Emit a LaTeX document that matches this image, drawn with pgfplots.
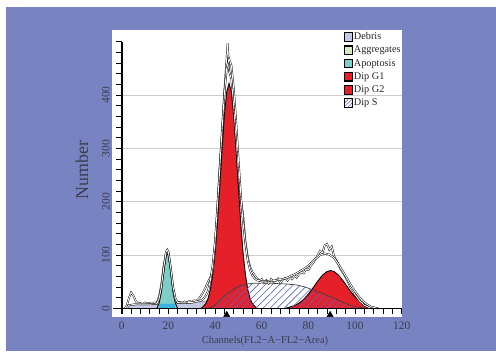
\documentclass[border=0pt]{standalone}
\usepackage{pgfplots}
\pgfplotsset{compat=1.18}
\usepackage{fontspec}
\setmainfont{Liberation Serif}
\usetikzlibrary{patterns.meta}
\definecolor{bgpurple}{RGB}{120,131,193}
\definecolor{g1red}{RGB}{230,32,40}
\definecolor{apoteal}{RGB}{126,206,200}
\definecolor{apocyan}{RGB}{58,178,228}
\definecolor{debris}{RGB}{197,201,229}
\definecolor{aggr}{RGB}{214,234,200}
\definecolor{hatchblue}{RGB}{88,100,192}
\definecolor{gridgray}{RGB}{205,205,205}
\definecolor{txt}{RGB}{60,60,78}
\begin{document}
\begin{tikzpicture}
\path[use as bounding box] (0,0) rectangle (496bp,352bp);
\fill[white] (0,0) rectangle (496bp,352bp);
\fill[bgpurple] (6bp,1bp) rectangle (496bp,344.5bp);
\begin{axis}[
  at={(111.7bp,35bp)}, anchor=south west,
  scale only axis, width=290bp, height=287bp,
  xmin=-4.3, xmax=120, ymin=-16, ymax=522,
  axis background/.style={fill=white},
  axis line style={draw=none},
  major tick length=0pt, minor tick length=0pt,
  xtick={0,20,...,120}, ytick={0,100,...,400},
  /pgf/number format/assume math mode=true,
  tick label style={font=\fontsize{11.5}{12}\selectfont, text=txt},
  xticklabel style={anchor=north, inner sep=0pt, yshift=-5bp},
  yticklabel style={rotate=90, anchor=south, inner sep=1.7bp},
  clip=false,
  legend image code/.code={\draw[#1, line width=1.1pt] (0bp,-4.4bp) rectangle (7.3bp,4.4bp);},
  legend style={at={(axis cs:95.4,517.5)}, anchor=north west, draw=none, fill=none,
    inner sep=0pt, outer sep=0pt, row sep=3.2bp,
    nodes={inner sep=0pt, text height=7bp, text depth=2bp, text=black!85},
    font=\fontsize{10.3}{12}\selectfont,
    /tikz/every odd column/.style={column sep=1.2bp}},
  legend cell align=left,
]
% grid lines
\pgfplotsinvokeforeach{100,200,300,400}{\draw[gridgray, line width=0.6pt] (axis cs:0,#1) -- (axis cs:120,#1);}
% Debris
\addplot[forget plot, fill=debris, draw=black!55, line width=0.5pt] coordinates {
(2,0)(3,6)(4,7)(6,8)(10,8)(15,8.5)(20,9)(25,10)(30,11)(34,13)(38,15)(42,18)(45,18)(48,15)(51,10)(54,5)(57,1)(58,0)} -- cycle;
% Apoptosis
\addplot[forget plot, fill=apoteal, draw=black, line width=0.9pt] coordinates {
(15,0)(16,9.5)(17,31)(18,67)(19,99)(19.5,104)(20,99)(21,67)(22,31)(23,9.5)(24,0)} -- cycle;
\addplot[forget plot, fill=apocyan, draw=none] coordinates {(16.1,0)(16.1,8.5)(22.9,9)(22.9,0)} -- cycle;
% S phase background
\addplot[forget plot, fill=white, draw=none] coordinates {
(36,0)(38,2)(40,6)(42,15)(44,23)(46,30)(48,36)(50,41)(52,44)(54,46)(56,47)(60,47.5)(65,47)(70,46)(75,44)(78,41)(80,38)(83,33)(86,28)(90,21)(94,13)(98,6)(101,3)(104,1)(106,0)} -- cycle;
% G1
\addplot[forget plot, fill=g1red, draw=black, line width=0.9pt] coordinates {
(34,0)(35,4)(36,8.9)(37,18.5)(38,36)(39,64)(40,105)(41,161)(42,228)(43,298)(44,362)(45,406)(46,422)(47,406)(48,362)(49,298)(50,228)(51,161)(52,105)(53,64)(54,36)(55,18.5)(56,8.9)(57,4)(58,0)} -- cycle;
% G2
\addplot[forget plot, fill=g1red, draw=black, line width=0.9pt] coordinates {
(70,0)(72,2.6)(74,5.3)(76,9.9)(78,17)(80,26.8)(82,38.6)(84,51.2)(86,62.2)(88,69.3)(89.5,71)(91,69.3)(93,62.2)(95,51.2)(97,38.6)(99,26.8)(101,17)(103,9.9)(105,5.3)(107,2.6)(109,1.2)(110,0)} -- cycle;
% S phase hatch
\addplot[forget plot, draw=black!75, line width=0.7pt, pattern={Lines[angle=45,distance=5bp,line width=0.6pt]}, pattern color=hatchblue] coordinates {
(36,0)(38,2)(40,6)(42,15)(44,23)(46,30)(48,36)(50,41)(52,44)(54,46)(56,47)(60,47.5)(65,47)(70,46)(75,44)(78,41)(80,38)(83,33)(86,28)(90,21)(94,13)(98,6)(101,3)(104,1)(106,0)} -- cycle;
% data histogram
\addplot[forget plot, draw=black, line width=0.45pt, double=white, double distance=0.9pt] coordinates {
(1,0)(2,3)(3,18)(4,30)(5,24)(6,14)(7,9)(8,10)(9,8)(10,11)(11,9)(12,10)(13,8)(14,11)(15,10)(16,22)(17,45)(18,80)(19,103)(20,105)(21,75)(22,38)(23,16)(24,11)(25,12)(26,10)(27,13)(28,11)(29,14)(30,12)(31,15)(32,14)(33,18)(34,24)(35,31)(36,40)(37,50)(38,58)(39,72)(40,118)(41,185)(42,265)(43,330)(44,405)(45,470)(45.4,497)(46,445)(47,430)(48,380)(49,320)(50,255)(51,205)(52,175)(53,125)(54,96)(55,78)(56,68)(57,62)(58,56)(59,52)(60,55)(61,49)(62,53)(63,47)(64,55)(65,50)(66,52)(67,56)(68,48)(69,54)(70,57)(71,52)(72,58)(73,55)(74,62)(75,58)(76,64)(77,68)(78,66)(79,74)(80,72)(81,80)(82,85)(83,92)(84,100)(85,108)(86,104)(87,118)(88,121)(89,110)(90,116)(91,98)(92,90)(93,82)(94,72)(95,66)(96,58)(97,50)(98,40)(99,34)(100,26)(101,20)(102,14)(103,10)(104,6)(105,4)(106,2)(107,1)(108,0)};
% fit curve
\addplot[forget plot, draw=black, line width=0.45pt, double=white, double distance=0.9pt] coordinates {
(2,0)(3,6)(6,8)(10,8)(15,8.5)(16,18)(17,40)(18,76)(19,106)(19.5,110)(20,106)(21,76)(22,40)(23,19)(24,11)(26,10.5)(30,11)(34,15)(35,18)(36,24)(37,33)(38,53)(39,82)(40,127)(41,190)(42,261)(43,335)(44,403)(45,450)(46,468)(47,455)(48,413)(49,353)(50,282)(51,216)(52,162)(53,122)(54,90)(55,72)(56,62)(57,56)(58,53)(60,51)(65,52)(70,56)(75,66)(78,74)(80,80)(83,93)(85,100)(87,103)(89,101)(91,95)(93,82)(95,68)(97,53)(99,38)(101,26)(103,15)(105,8)(107,3)(109,1)(110,0)};
% axes
\draw[black, line width=1.4pt] (axis cs:-3.9,0) -- (axis cs:120,0);
\draw[black, line width=1.6pt] (axis cs:0,-10) -- (axis cs:0,500);
\pgfplotsinvokeforeach{0,4,...,120}{\draw[black, line width=0.9pt] (axis cs:#1,0) -- (axis cs:#1,-10.5);}
\pgfplotsinvokeforeach{0,20,...,500}{\draw[black, line width=0.9pt] (axis cs:0,#1) -- (axis cs:-2.3,#1);}
% G1 / G2 position markers
\addplot[forget plot, only marks, mark=triangle*, mark size=3.6pt, black] coordinates {(45,-12)(89.3,-12)};
% labels
\node[rotate=90, font=\fontsize{18}{20}\selectfont, text=txt] at (axis cs:-17,260) {Number};
\node[font=\fontsize{10.5}{12}\selectfont, text=txt] at (axis cs:61.4,-61) {Channels(FL2−A−FL2−Area)};
% legend
\addlegendimage{fill=debris}
\addlegendentry{Debris}
\addlegendimage{fill=aggr}
\addlegendentry{Aggregates}
\addlegendimage{fill=apoteal}
\addlegendentry{Apoptosis}
\addlegendimage{fill=g1red}
\addlegendentry{Dip G1}
\addlegendimage{fill=g1red}
\addlegendentry{Dip G2}
\addlegendimage{fill=white, postaction={pattern={Lines[angle=45,distance=2.6bp,line width=0.6pt]}, pattern color=hatchblue}}
\addlegendentry{Dip S}
\end{axis}
\end{tikzpicture}
\end{document}
